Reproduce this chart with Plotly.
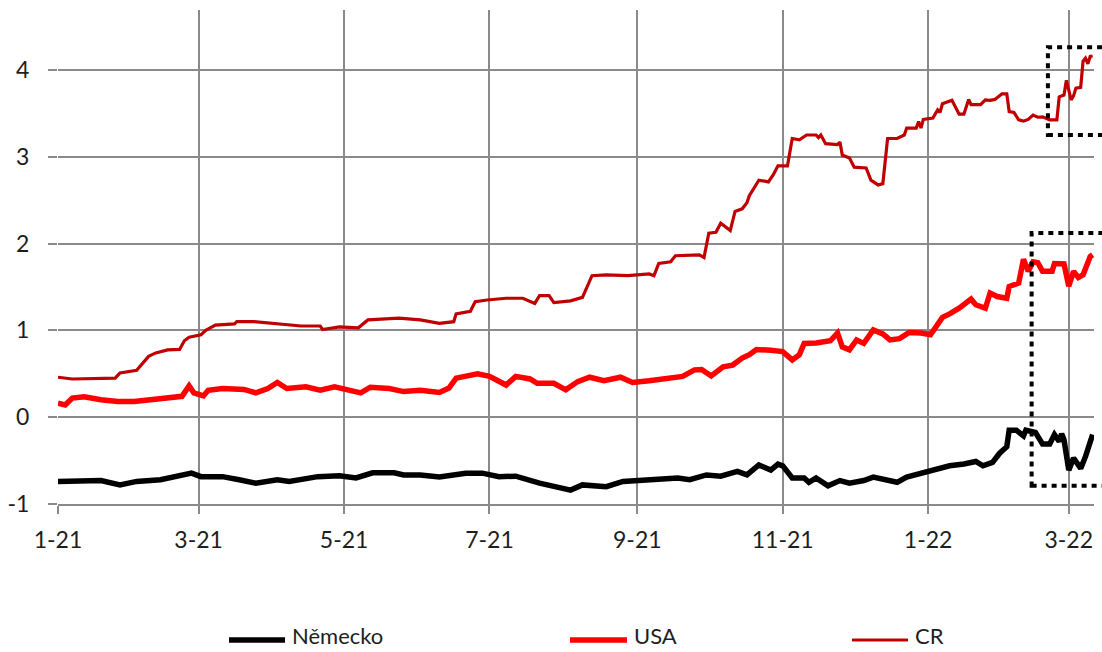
import pandas as pd
import plotly.graph_objects as go

# ---------------- data ----------------
cr_dates = [
    "2021-01-01", "2021-01-07", "2021-01-25", "2021-01-27", "2021-02-03", "2021-02-05",
    "2021-02-08", "2021-02-11", "2021-02-16", "2021-02-21", "2021-02-23", "2021-02-25",
    "2021-03-02", "2021-03-04", "2021-03-08", "2021-03-16", "2021-03-17", "2021-03-24",
    "2021-04-03", "2021-04-13", "2021-04-21", "2021-04-22", "2021-04-29", "2021-05-07",
    "2021-05-11", "2021-05-17", "2021-05-24", "2021-06-02", "2021-06-10", "2021-06-16",
    "2021-06-17", "2021-06-23", "2021-06-25", "2021-06-30", "2021-07-08", "2021-07-15",
    "2021-07-20", "2021-07-22", "2021-07-26", "2021-07-28", "2021-08-04", "2021-08-09",
    "2021-08-13", "2021-08-19", "2021-08-28", "2021-09-06", "2021-09-08", "2021-09-10",
    "2021-09-15", "2021-09-17", "2021-09-27", "2021-09-29", "2021-10-01", "2021-10-04",
    "2021-10-06", "2021-10-10", "2021-10-12", "2021-10-15", "2021-10-17", "2021-10-18",
    "2021-10-20", "2021-10-22", "2021-10-26", "2021-10-28", "2021-10-30", "2021-11-03",
    "2021-11-05", "2021-11-08", "2021-11-11", "2021-11-15", "2021-11-16", "2021-11-17",
    "2021-11-19", "2021-11-24", "2021-11-25", "2021-11-26", "2021-11-29", "2021-12-01",
    "2021-12-06", "2021-12-08", "2021-12-11", "2021-12-13", "2021-12-15", "2021-12-19",
    "2021-12-22", "2021-12-23", "2021-12-27", "2021-12-28", "2021-12-29", "2021-12-30",
    "2022-01-03", "2022-01-05", "2022-01-06", "2022-01-07", "2022-01-11", "2022-01-14",
    "2022-01-16", "2022-01-18", "2022-01-19", "2022-01-23", "2022-01-25", "2022-01-27",
    "2022-01-29", "2022-02-01", "2022-02-03", "2022-02-04", "2022-02-06", "2022-02-08",
    "2022-02-10", "2022-02-12", "2022-02-14", "2022-02-16", "2022-02-18", "2022-02-20",
    "2022-02-21", "2022-02-24", "2022-02-25", "2022-02-27", "2022-02-28", "2022-03-02",
    "2022-03-03", "2022-03-04", "2022-03-06", "2022-03-07", "2022-03-08", "2022-03-09",
    "2022-03-10", "2022-03-11",
]
cr_values = [
    0.46, 0.44, 0.45, 0.51, 0.54, 0.60,
    0.70, 0.74, 0.775, 0.78, 0.88, 0.92,
    0.95, 1.00, 1.06, 1.075, 1.10, 1.10,
    1.075, 1.05, 1.05, 1.01, 1.04, 1.03,
    1.12, 1.13, 1.14, 1.12, 1.08, 1.10,
    1.19, 1.22, 1.33, 1.35, 1.37, 1.37,
    1.31, 1.40, 1.40, 1.32, 1.34, 1.38,
    1.63, 1.64, 1.63, 1.65, 1.63, 1.77,
    1.79, 1.86, 1.87, 1.84, 2.12, 2.13,
    2.235, 2.15, 2.37, 2.40, 2.47, 2.55,
    2.64, 2.73, 2.71, 2.79, 2.895, 2.895,
    3.21, 3.195, 3.25, 3.25, 3.22, 3.25,
    3.15, 3.14, 3.17, 3.02, 2.985, 2.88,
    2.87, 2.73, 2.675, 2.69, 3.21, 3.21,
    3.25, 3.33, 3.33, 3.405, 3.33, 3.43,
    3.445, 3.54, 3.51, 3.61, 3.65, 3.49,
    3.49, 3.66, 3.60, 3.60, 3.655, 3.65,
    3.66, 3.725, 3.725, 3.52, 3.51, 3.425,
    3.41, 3.43, 3.48, 3.455, 3.46, 3.43,
    3.425, 3.425, 3.69, 3.71, 3.88, 3.655,
    3.70, 3.79, 3.80, 4.10, 4.135, 4.07,
    4.155, 4.16,
]

usa_dates = [
    "2021-01-01", "2021-01-04", "2021-01-07", "2021-01-12", "2021-01-19", "2021-01-26",
    "2021-02-02", "2021-02-09", "2021-02-16", "2021-02-22", "2021-02-25", "2021-02-27",
    "2021-03-03", "2021-03-05", "2021-03-11", "2021-03-20", "2021-03-25", "2021-03-30",
    "2021-04-03", "2021-04-07", "2021-04-15", "2021-04-21", "2021-04-27", "2021-05-03",
    "2021-05-08", "2021-05-12", "2021-05-20", "2021-05-26", "2021-06-02", "2021-06-10",
    "2021-06-14", "2021-06-17", "2021-06-26", "2021-07-01", "2021-07-08", "2021-07-12",
    "2021-07-18", "2021-07-21", "2021-07-28", "2021-08-02", "2021-08-07", "2021-08-12",
    "2021-08-18", "2021-08-25", "2021-08-30", "2021-09-06", "2021-09-13", "2021-09-20",
    "2021-09-25", "2021-09-28", "2021-10-02", "2021-10-07", "2021-10-11", "2021-10-15",
    "2021-10-18", "2021-10-21", "2021-10-27", "2021-11-01", "2021-11-05", "2021-11-08",
    "2021-11-10", "2021-11-15", "2021-11-21", "2021-11-24", "2021-11-26", "2021-11-29",
    "2021-12-02", "2021-12-05", "2021-12-09", "2021-12-13", "2021-12-16", "2021-12-20",
    "2021-12-24", "2021-12-29", "2022-01-02", "2022-01-07", "2022-01-10", "2022-01-14",
    "2022-01-19", "2022-01-21", "2022-01-25", "2022-01-27", "2022-01-30", "2022-02-03",
    "2022-02-04", "2022-02-08", "2022-02-10", "2022-02-12", "2022-02-14", "2022-02-16",
    "2022-02-18", "2022-02-22", "2022-02-23", "2022-02-27", "2022-03-01", "2022-03-03",
    "2022-03-05", "2022-03-07", "2022-03-10", "2022-03-11",
]
usa_values = [
    0.16, 0.14, 0.22, 0.235, 0.20, 0.18,
    0.18, 0.20, 0.22, 0.24, 0.36, 0.28,
    0.245, 0.31, 0.33, 0.32, 0.28, 0.33,
    0.40, 0.33, 0.35, 0.31, 0.35, 0.32,
    0.28, 0.345, 0.33, 0.295, 0.31, 0.285,
    0.335, 0.45, 0.50, 0.47, 0.37, 0.47,
    0.44, 0.39, 0.39, 0.315, 0.41, 0.46,
    0.42, 0.46, 0.40, 0.42, 0.45, 0.47,
    0.545, 0.55, 0.475, 0.58, 0.60, 0.68,
    0.72, 0.78, 0.77, 0.755, 0.66, 0.72,
    0.85, 0.855, 0.88, 0.97, 0.81, 0.775,
    0.89, 0.85, 1.005, 0.96, 0.89, 0.905,
    0.975, 0.97, 0.95, 1.15, 1.19, 1.255,
    1.36, 1.295, 1.255, 1.43, 1.39, 1.37,
    1.505, 1.545, 1.82, 1.68, 1.79, 1.78,
    1.68, 1.68, 1.77, 1.765, 1.51, 1.68,
    1.61, 1.64, 1.85, 1.87,
]

de_dates = [
    "2021-01-01", "2021-01-12", "2021-01-19", "2021-01-27", "2021-02-03", "2021-02-13",
    "2021-02-20", "2021-02-26", "2021-03-02", "2021-03-11", "2021-03-18", "2021-03-25",
    "2021-04-03", "2021-04-08", "2021-04-20", "2021-04-29", "2021-05-06", "2021-05-13",
    "2021-05-22", "2021-05-26", "2021-06-02", "2021-06-10", "2021-06-21", "2021-06-28",
    "2021-07-05", "2021-07-12", "2021-07-22", "2021-07-29", "2021-08-04", "2021-08-09",
    "2021-08-19", "2021-08-26", "2021-09-01", "2021-09-08", "2021-09-18", "2021-09-23",
    "2021-09-30", "2021-10-06", "2021-10-13", "2021-10-17", "2021-10-20", "2021-10-22",
    "2021-10-24", "2021-10-27", "2021-10-30", "2021-11-01", "2021-11-05", "2021-11-10",
    "2021-11-12", "2021-11-15", "2021-11-20", "2021-11-25", "2021-11-29", "2021-12-05",
    "2021-12-09", "2021-12-15", "2021-12-19", "2021-12-23", "2021-12-30", "2022-01-05",
    "2022-01-10", "2022-01-16", "2022-01-21", "2022-01-24", "2022-01-28", "2022-01-31",
    "2022-02-03", "2022-02-04", "2022-02-07", "2022-02-10", "2022-02-11", "2022-02-15",
    "2022-02-18", "2022-02-21", "2022-02-23", "2022-02-25", "2022-02-26", "2022-02-27",
    "2022-03-01", "2022-03-03", "2022-03-06", "2022-03-08", "2022-03-11",
]
de_values = [
    -0.74, -0.74, -0.73, -0.78, -0.74, -0.72,
    -0.685, -0.645, -0.685, -0.685, -0.72, -0.76,
    -0.72, -0.74, -0.685, -0.675, -0.70, -0.64,
    -0.64, -0.665, -0.665, -0.69, -0.645, -0.645,
    -0.685, -0.68, -0.76, -0.80, -0.84, -0.78,
    -0.80, -0.74, -0.73, -0.72, -0.70, -0.72,
    -0.665, -0.68, -0.625, -0.665, -0.59, -0.55,
    -0.575, -0.61, -0.54, -0.56, -0.70, -0.70,
    -0.75, -0.70, -0.79, -0.73, -0.76, -0.73,
    -0.69, -0.73, -0.75, -0.69, -0.64, -0.60,
    -0.56, -0.54, -0.51, -0.56, -0.52, -0.415,
    -0.34, -0.15, -0.15, -0.215, -0.15, -0.175,
    -0.31, -0.31, -0.20, -0.28, -0.19, -0.26,
    -0.61, -0.47, -0.59, -0.455, -0.20,
]

series_names = ["Německo", "USA", "CR"]
series_colors = ["#000000", "#FF0000", "#C00000"]
series_widths = [5.5, 5.5, 3.2]

y_tickvals = [-1, 0, 1, 2, 3, 4]
y_ticktext = ["-1", "0", "1", "2", "3", "4"]
x_tickvals = ["2021-01-01", "2021-03-01", "2021-05-01", "2021-07-01",
              "2021-09-01", "2021-11-01", "2022-01-01", "2022-03-01"]
x_ticktext = ["1-21", "3-21", "5-21", "7-21", "9-21", "11-21", "1-22", "3-22"]

X_RANGE = ["2021-01-01", "2022-03-11 14:00"]
Y_RANGE = [-1, 4.69]

# highlighted windows (dotted boxes): start date, y bottom, y top
box_starts = ["2022-02-20 06:00", "2022-02-13 10:00"]
box_bottoms = [3.25, -0.79]
box_tops = [4.26, 2.12]

# ---------------- layout constants ----------------
W, H = 1102, 652
ML, MR, MT, MB = 58, 8, 10, 148
PW, PH = W - ML - MR, H - MT - MB

FONT = "Lato, 'Open Sans', sans-serif"
GRID = "#8a8a8a"
TXT = "#1e1e1e"

fig = go.Figure()
for xs, ys, nm, col, lw in zip([de_dates, usa_dates, cr_dates],
                               [de_values, usa_values, cr_values],
                               series_names, series_colors, series_widths):
    fig.add_trace(go.Scatter(x=xs, y=ys, name=nm, mode="lines",
                             line=dict(color=col, width=lw), showlegend=False))

t0 = pd.Timestamp(X_RANGE[0])
t1 = pd.Timestamp(X_RANGE[1])


def date_to_paper(d):
    return (pd.Timestamp(d) - t0) / (t1 - t0)


def val_to_paper(v):
    return (v - Y_RANGE[0]) / (Y_RANGE[1] - Y_RANGE[0])


def pxx(p):
    return (p - ML) / PW


def pxy(p):
    return (H - MB - p) / PH


shapes = []
for s, b, t in zip(box_starts, box_bottoms, box_tops):
    shapes.append(dict(type="rect", xref="paper", yref="paper",
                       x0=date_to_paper(s), x1=1.06, y0=val_to_paper(b), y1=val_to_paper(t),
                       line=dict(color="#000000", width=4, dash="5px,5px"),
                       fillcolor="rgba(0,0,0,0)", layer="above"))

# legend drawn below the plot (key line + label for each series)
legend_line_x = [(229, 285), (570, 627), (852, 908)]
legend_text_x = [291, 633, 914]
annotations = []
for (a, b), tx, nm, col, lw in zip(legend_line_x, legend_text_x, series_names,
                                   series_colors, series_widths):
    shapes.append(dict(type="line", xref="paper", yref="paper",
                       x0=pxx(a), x1=pxx(b), y0=pxy(640), y1=pxy(640),
                       line=dict(color=col, width=lw)))
    annotations.append(dict(text=nm, xref="paper", yref="paper", x=pxx(tx), y=pxy(650),
                            xanchor="left", yanchor="bottom", showarrow=False,
                            font=dict(family=FONT, size=22, color=TXT),
                            borderpad=0))

fig.update_layout(
    width=W, height=H,
    margin=dict(l=ML, r=MR, t=MT, b=MB, autoexpand=False),
    paper_bgcolor="white", plot_bgcolor="white",
    font=dict(family=FONT, size=23, color=TXT),
    showlegend=False,
    shapes=shapes,
    annotations=annotations,
    xaxis=dict(
        type="date", range=X_RANGE,
        tickvals=x_tickvals, ticktext=x_ticktext,
        showgrid=True, gridcolor=GRID, gridwidth=2,
        showline=True, linecolor=GRID, linewidth=2,
        ticks="outside", ticklen=8, tickwidth=2, tickcolor=GRID,
        ticklabelstandoff=6,
        tickfont=dict(family=FONT, size=23, color=TXT),
        zeroline=False, fixedrange=True, automargin=False,
    ),
    yaxis=dict(
        range=Y_RANGE,
        tickvals=y_tickvals, ticktext=y_ticktext,
        showgrid=True, gridcolor=GRID, gridwidth=2,
        showline=False,
        ticks="outside", ticklen=9, tickwidth=2, tickcolor=GRID,
        ticklabelstandoff=14,
        tickfont=dict(family=FONT, size=23, color=TXT),
        zeroline=False, fixedrange=True, automargin=False,
    ),
)

fig.write_html("out.html")
